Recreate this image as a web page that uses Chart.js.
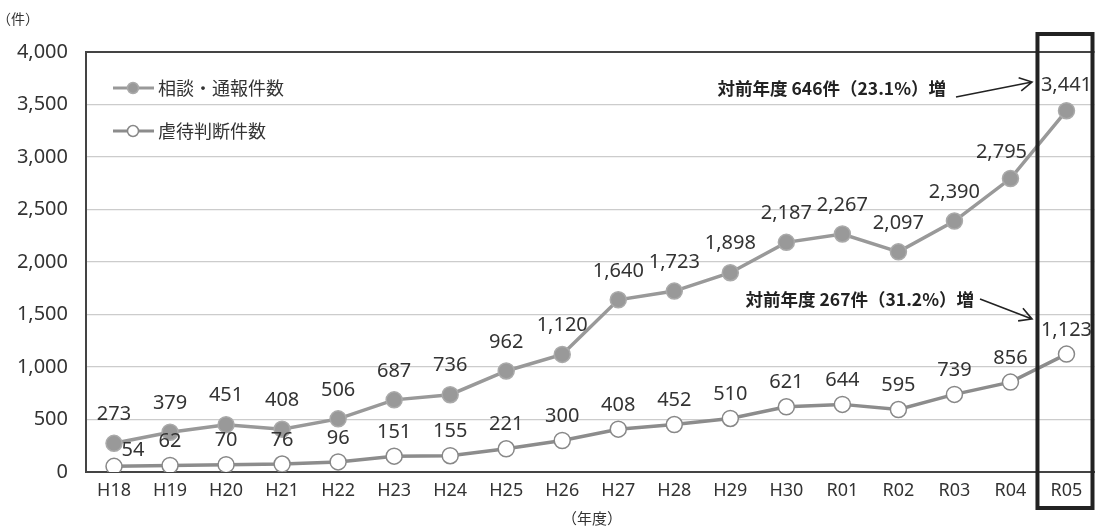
<!DOCTYPE html>
<html lang="ja">
<head>
<meta charset="utf-8">
<title>相談・通報件数と虐待判断件数の推移</title>
<script src="https://cdn.jsdelivr.net/npm/chart.js@4/dist/chart.umd.min.js"></script>
<style>
  html, body { margin: 0; padding: 0; background: #fff; }
  #wrap { position: relative; width: 1104px; height: 529px; }
</style>
</head>
<body>
<div id="wrap"><canvas id="chart"></canvas></div>
<script>
// 年度と件数
const years = ["H18", "H19", "H20", "H21", "H22", "H23", "H24", "H25", "H26",
  "H27", "H28", "H29", "H30", "R01", "R02", "R03", "R04", "R05"];
const consultCounts = [273, 379, 451, 408, 506, 687, 736, 962, 1120,
  1640, 1723, 1898, 2187, 2267, 2097, 2390, 2795, 3441];
const abuseCounts = [54, 62, 70, 76, 96, 151, 155, 221, 300,
  408, 452, 510, 621, 644, 595, 739, 856, 1123];
const seriesNames = ["相談・通報件数", "虐待判断件数"];
const yMax = 4000;
const yStep = 500;
const unitLabel = "（件）";
const axisTitle = "（年度）";
const increaseNotes = ["対前年度 646件（23.1%）増", "対前年度 267件（31.2%）増"];

const JP = '"Noto Sans CJK JP", "Noto Sans", sans-serif';
const NUM = '"Noto Sans", "Noto Sans CJK JP", sans-serif';
const TEXT = "#333";

// 数値ラベル・凡例・注記・R05の枠
const overlay = {
  id: "overlay",
  afterDatasetsDraw(chart) {
    const { ctx, chartArea: a, scales: { x } } = chart;
    const last = years.length - 1;
    ctx.save();

    // 上端の枠線
    ctx.strokeStyle = "#444";
    ctx.lineWidth = 2;
    ctx.beginPath();
    ctx.moveTo(a.left, a.top);
    ctx.lineTo(a.right, a.top);
    ctx.stroke();

    // 値ラベル
    ctx.font = "20px " + NUM;
    ctx.fillStyle = TEXT;
    ctx.textAlign = "center";
    ctx.textBaseline = "middle";
    chart.data.datasets.forEach((ds, di) => {
      chart.getDatasetMeta(di).data.forEach((pt, i) => {
        let dx = 0, dy = di === 0 ? -29 : -24;
        if (di === 1 && i === 0) { dx = 19; dy = -16; }
        if (di === 0 && i === last - 1) { dx = -9; dy = -26; }
        if (di === 0 && i === last) { dy = -25; }
        ctx.fillText(ds.data[i].toLocaleString("en-US"), pt.x + dx, pt.y + dy);
      });
    });

    // 凡例
    chart.data.datasets.forEach((ds, di) => {
      const y = a.top + 36 + di * 43;
      const x0 = a.left + 27;
      ctx.strokeStyle = ds.borderColor;
      ctx.lineWidth = 3;
      ctx.beginPath();
      ctx.moveTo(x0, y);
      ctx.lineTo(x0 + 41, y);
      ctx.stroke();
      ctx.beginPath();
      ctx.arc(x0 + 20, y, 5.5, 0, Math.PI * 2);
      ctx.fillStyle = ds.pointBackgroundColor;
      ctx.fill();
      ctx.lineWidth = 1.5;
      ctx.strokeStyle = ds.pointBorderColor;
      ctx.stroke();
      ctx.fillStyle = TEXT;
      ctx.textAlign = "left";
      ctx.font = "18px " + JP;
      ctx.fillText(ds.label, x0 + 45, y);
    });

    // R05の枠
    const half = (x.getPixelForValue(1) - x.getPixelForValue(0)) / 2;
    const bx0 = x.getPixelForValue(last) - half;
    const bx1 = x.getPixelForValue(last) + half - 1;
    ctx.strokeStyle = "#222";
    ctx.lineWidth = 4;
    ctx.strokeRect(bx0 - 1, 34, bx1 - bx0, 474);

    // 増加の注記と矢印
    ctx.font = "bold 17.5px " + JP;
    ctx.fillStyle = "#222";
    ctx.textAlign = "right";
    ctx.fillText(increaseNotes[0], 946, 88);
    ctx.fillText(increaseNotes[1], 974, 299);
    const arrow = (x1, y1, x2, y2) => {
      const ang = Math.atan2(y2 - y1, x2 - x1);
      ctx.strokeStyle = "#222";
      ctx.lineWidth = 1.6;
      ctx.beginPath();
      ctx.moveTo(x1, y1);
      ctx.lineTo(x2, y2);
      ctx.moveTo(x2 - 14 * Math.cos(ang - 0.5), y2 - 14 * Math.sin(ang - 0.5));
      ctx.lineTo(x2, y2);
      ctx.lineTo(x2 - 14 * Math.cos(ang + 0.5), y2 - 14 * Math.sin(ang + 0.5));
      ctx.stroke();
    };
    arrow(956, 97, 1032, 82);
    arrow(980, 299, 1032, 319);

    // 単位と軸タイトル
    ctx.font = "14px " + JP;
    ctx.fillStyle = TEXT;
    ctx.textAlign = "center";
    ctx.fillText(unitLabel, 18, 19);
    ctx.font = "15px " + JP;
    ctx.fillText(axisTitle, 592, 518);

    ctx.restore();
  }
};

new Chart(document.getElementById("chart"), {
  type: "line",
  data: {
    labels: years,
    datasets: [
      {
        label: seriesNames[0],
        data: consultCounts,
        borderColor: "#999",
        borderWidth: 3.5,
        pointRadius: 8,
        pointBackgroundColor: "#999",
        pointBorderColor: "#aaa",
        pointBorderWidth: 1.5
      },
      {
        label: seriesNames[1],
        data: abuseCounts,
        borderColor: "#8c8c8c",
        borderWidth: 3.5,
        pointRadius: 8,
        pointBackgroundColor: "#fff",
        pointBorderColor: "#888",
        pointBorderWidth: 1.5
      }
    ]
  },
  options: {
    responsive: true,
    maintainAspectRatio: false,
    animation: false,
    layout: { padding: { top: 52, right: 8, left: 0, bottom: 0 } },
    plugins: { legend: { display: false }, tooltip: { enabled: false } },
    scales: {
      x: {
        offset: true,
        grid: { display: false, drawTicks: false },
        border: { color: "#444", width: 2 },
        ticks: { color: TEXT, font: { family: NUM, size: 18 }, padding: 8, maxRotation: 0 },
        afterFit(s) { s.height = 57; }
      },
      y: {
        min: 0,
        max: yMax,
        grid: { color: "#ccc", lineWidth: 1.2, drawTicks: false },
        border: { color: "#444", width: 2 },
        ticks: {
          stepSize: yStep,
          color: TEXT,
          padding: 18,
          font: { family: NUM, size: 20 },
          callback: v => v.toLocaleString("en-US")
        },
        afterFit(s) { s.width = 86; }
      }
    }
  },
  plugins: [overlay]
});
</script>
</body>
</html>
